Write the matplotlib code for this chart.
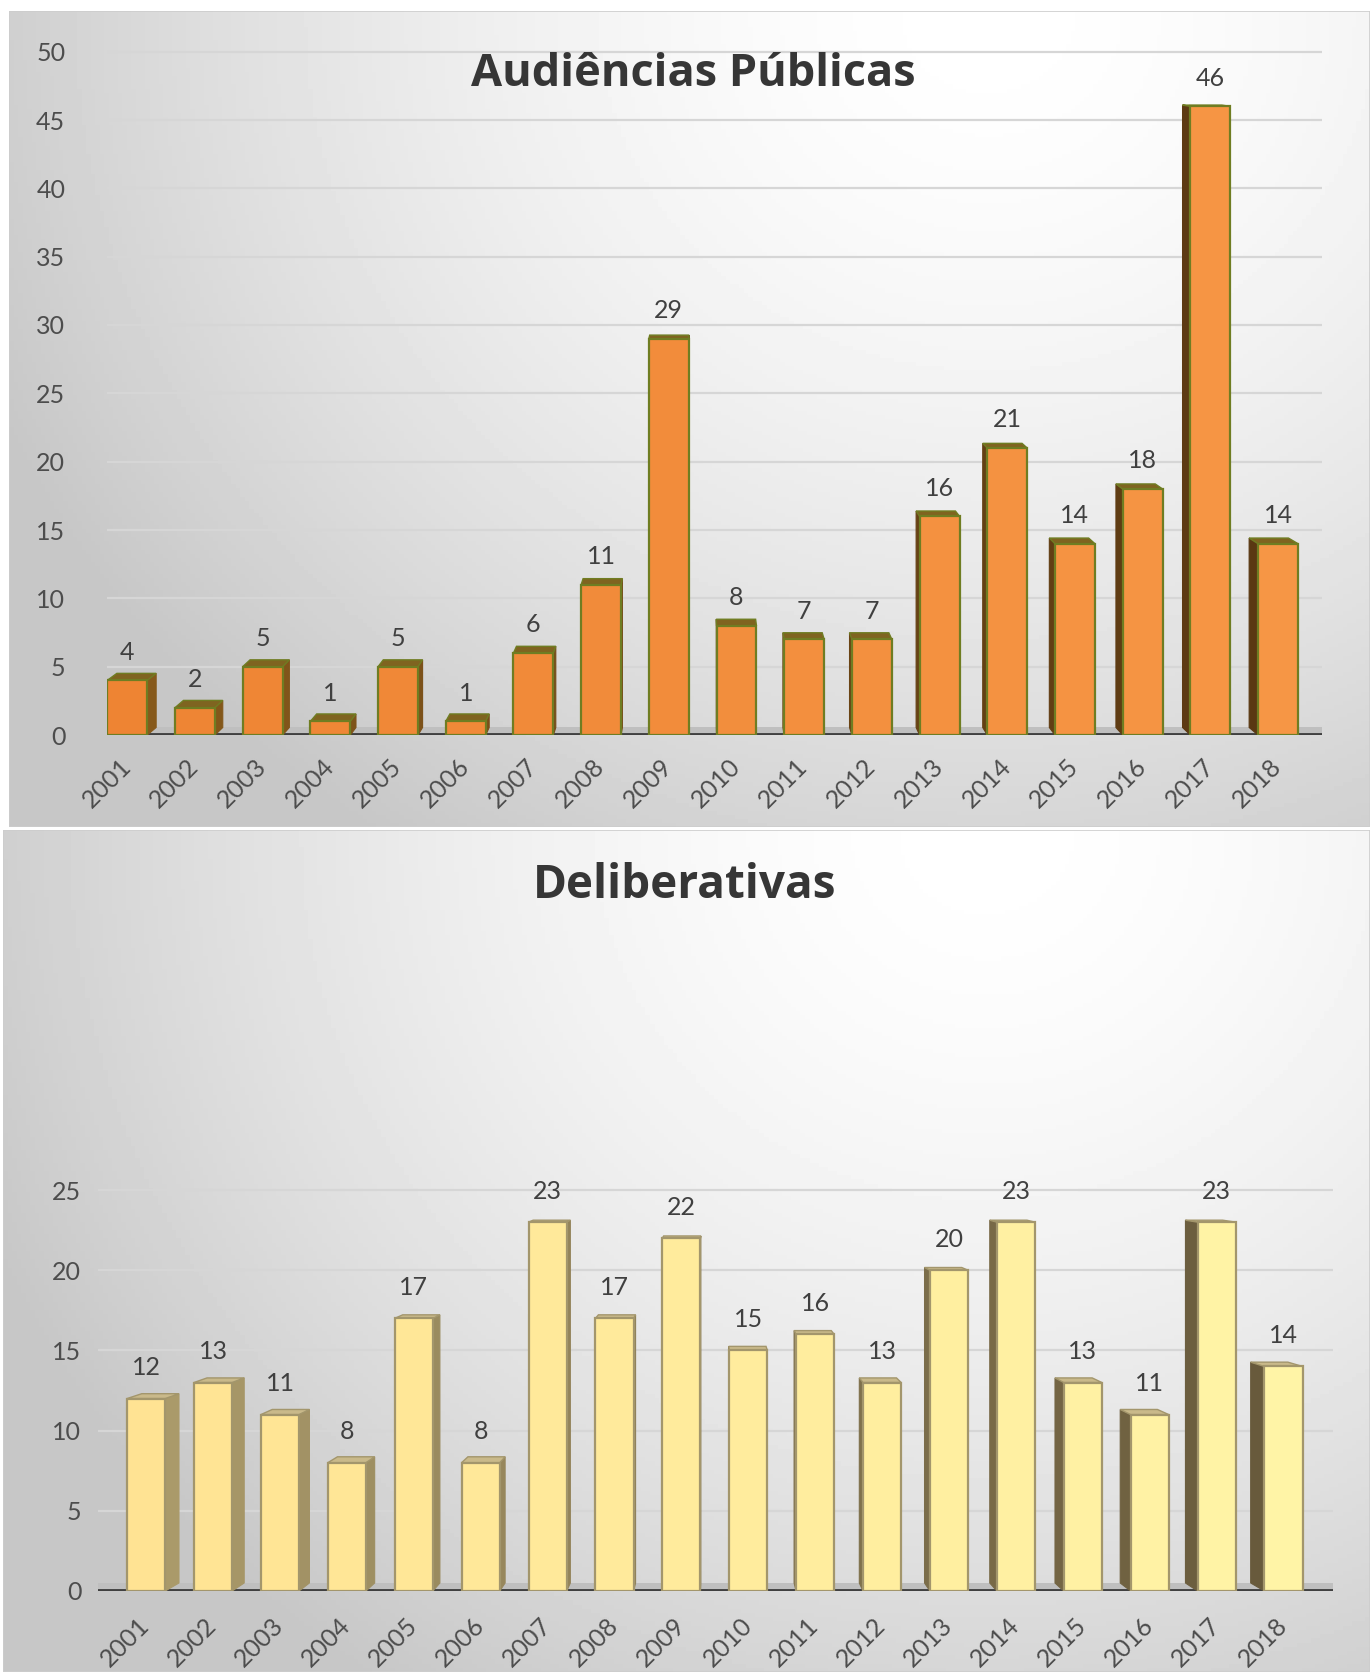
"""
Audiências públicas e deliberativas por ano (colunas 3D)
"""
import numpy as np
import matplotlib
matplotlib.use('Agg')
import matplotlib.pyplot as plt
from matplotlib.patches import Polygon, Rectangle
from matplotlib.colors import to_rgb
from matplotlib.transforms import ScaledTranslation

anos = [str(a) for a in range(2001, 2019)]
audiencias = [4, 2, 5, 1, 5, 1, 6, 11, 29, 8, 7, 7, 16, 21, 14, 18, 46, 14]
deliberativas = [12, 13, 11, 8, 17, 8, 23, 17, 22, 15, 16, 13, 20, 23, 13, 11, 23, 14]

W, H = 1370, 1672
fig = plt.figure(figsize=(W / 100, H / 100), dpi=100)
fig.patch.set_facecolor('white')


def caixa(x0, y0, x1, y1):
    # caixa em pixels (origem no canto superior esquerdo) -> fração da figura
    return [x0 / W, 1 - y1 / H, (x1 - x0) / W, (y1 - y0) / H]


def mistura(c1, c2, t):
    a, b = np.array(to_rgb(c1)), np.array(to_rgb(c2))
    return tuple(a + (b - a) * t)


def painel(x0, y0, x1, y1):
    ax = fig.add_axes(caixa(x0, y0, x1, y1), zorder=0)
    xx, yy = np.meshgrid(np.linspace(0, 1, 300), np.linspace(0, 1, 200))
    d = np.sqrt(((xx - 0.72) / 0.75) ** 2 + (yy / 1.15) ** 2)
    v = np.clip(1.0 - 0.2 * d ** 1.6, 0.78, 1.0)
    ax.imshow(v, cmap='gray', vmin=0, vmax=1, aspect='auto')
    ax.set_axis_off()
    ax.add_patch(Rectangle((0, 0), 1, 1, transform=ax.transAxes, fill=False,
                           edgecolor='#cdcdcd', lw=1.2))


def colunas(ax, valores, larg, kx, dy0, ky, frente, lado, topo, borda, gap):
    n = len(valores)
    vx = (n - 1) / 2

    def tras(x, y):
        return x + kx * (vx - x), y + dy0 - ky * y

    # piso
    x0, x1 = ax.get_xlim()
    ax.add_patch(Polygon([(x0, 0), (x1, 0), (x1, dy0), (x0, dy0)],
                         closed=True, color='#bfbfbf', zorder=1, lw=0))
    for i, v in enumerate(valores):
        t = i / (n - 1)
        L, R = i - larg / 2, i + larg / 2
        aresta = R if i < vx else L
        bx, by = tras(aresta, v)
        _, b0 = tras(aresta, 0)
        cor_lado = mistura(lado[0], lado[1], t)
        ax.add_patch(Polygon([(aresta, 0), (aresta, v), (bx, by), (bx, b0)],
                             closed=True, facecolor=cor_lado, edgecolor=cor_lado,
                             lw=0.8, zorder=3))
        ax.add_patch(Polygon([(L, v), (R, v), tras(R, v), tras(L, v)],
                             closed=True, facecolor=topo, edgecolor=borda,
                             lw=1.0, zorder=3))
        ax.add_patch(Rectangle((L, 0), larg, v, facecolor=mistura(frente[0], frente[1], t),
                               edgecolor=borda, lw=1.6, zorder=4))
        ax.annotate(str(v), (i, v), xytext=(0, gap), textcoords='offset points',
                    ha='center', va='baseline', fontsize=18, family='Lato',
                    color='#404040', zorder=6)


def eixos(box, ylim, ticks, xlim, ypad, xpad):
    ax = fig.add_axes(caixa(*box), zorder=1)
    ax.set_facecolor('none')
    ax.set_xlim(*xlim)
    ax.set_ylim(*ylim)
    ax.set_yticks(ticks)
    ax.set_xticks(range(len(anos)))
    ax.set_xticklabels(anos, rotation=45, ha='right', va='top')
    for s in ax.spines.values():
        s.set_visible(False)
    ax.tick_params(length=0, labelsize=18, labelcolor='#4d4d4d')
    ax.tick_params(axis='y', pad=ypad)
    ax.tick_params(axis='x', pad=xpad)
    desloc = ScaledTranslation(8 / 100, 0, fig.dpi_scale_trans)
    for lb in ax.get_xticklabels():
        lb.set_family('Lato')
        lb.set_transform(lb.get_transform() + desloc)
    for lb in ax.get_yticklabels():
        lb.set_family('Lato')
    for t in ticks[1:]:
        ax.axhline(t, color='#d6d6d6', lw=1.6, zorder=0.5)
    ax.axhline(0, color='#404040', lw=3.5, zorder=2)
    return ax


# painéis de fundo
painel(9, 11, W, 827)
painel(3, 830, W, H)

# Audiências Públicas
ax1 = eixos((107, 38, 1322, 735), (0, 51), list(range(0, 51, 5)),
            (-0.3, 17.65), 30, 14)
colunas(ax1, audiencias, larg=0.59, kx=0.016, dy0=0.55, ky=0.01,
        frente=('#ee8433', '#f69645'), lado=('#86591b', '#5a3812'),
        topo='#7f6420', borda='#6f7d22', gap=15)
fig.text(693 / W, 1 - 74 / H, 'Audiências Públicas', ha='center', va='center',
         fontsize=32.5, fontweight='bold', family='Open Sans', color='#363636')

# Deliberativas
ax2 = eixos((98, 1174, 1333, 1591), (0, 26), list(range(0, 26, 5)),
            (-0.72, 17.74), 12, 16)
colunas(ax2, deliberativas, larg=0.57, kx=0.025, dy0=0.5, ky=0.0165,
        frente=('#ffe393', '#fff4a6'), lado=('#aa9a6a', '#685a3c'),
        topo='#c9b98a', borda='#a3966c', gap=17)
fig.text(685 / W, 1 - 886 / H, 'Deliberativas', ha='center', va='center',
         fontsize=33, fontweight='bold', family='Open Sans', color='#363636')

fig.savefig('out.png', dpi=100)
